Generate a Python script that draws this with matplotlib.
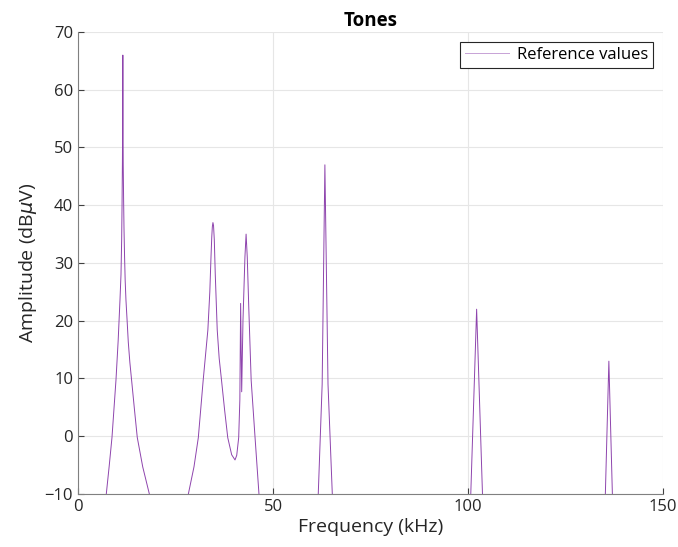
import numpy as np
import matplotlib
matplotlib.use("Agg")
import matplotlib.pyplot as plt

# valeurs (kHz, dBuV), un segment par groupe de pics
pic1_f = [7.26, 8.0, 8.72, 9.74, 10.3, 10.77, 11.03, 11.2, 11.3, 11.4, 11.45, 11.5, 11.55, 11.6, 11.7, 11.8, 11.95, 12.1, 12.3, 12.6, 12.9, 13.3, 13.75, 14.5, 15.2, 16.6, 18.3]
pic1_a = [-10, -5.2, -0.2, 9.7, 16.5, 23.6, 28, 34, 40, 48, 55, 66, 55, 47, 41, 36, 31, 27, 23.6, 20, 16.3, 12.8, 9.7, 4.5, -0.2, -5.3, -10]

pic2_f = [28.3, 29.74, 30.85, 32.1, 33.3, 33.8, 34.1, 34.3, 34.45, 34.6, 34.75, 34.95, 35.2, 35.7, 36.2, 36.8, 37.6, 38.4, 39.4, 40.26, 40.7, 41.2, 41.5, 41.7, 41.97, 42.3, 42.8, 43.1, 43.4, 43.8, 44.4, 45.4, 46.4]
pic2_a = [-10, -5.3, -0.25, 9.7, 18.4, 25, 31, 34.5, 36.3, 37, 36.5, 34, 28, 18.4, 13.5, 9.7, 4.5, -0.25, -3.2, -4.1, -3.3, -0.25, 6.3, 23, 7.7, 20, 31, 35, 31, 22, 9.7, -0.25, -10]

pic3_f = [61.6, 62.6, 63.3, 64.1, 65.2]
pic3_a = [-10, 9, 47, 9, -10]

pic4_f = [100.7, 102.2, 103.7]
pic4_a = [-10, 22, -10]

pic5_f = [135.2, 136.1, 137.0]
pic5_a = [-10, 13, -10]

segments = [(pic1_f, pic1_a), (pic2_f, pic2_a), (pic3_f, pic3_a), (pic4_f, pic4_a), (pic5_f, pic5_a)]
freq = []
ampl = []
for f, a in segments:
    freq += f + [np.nan]
    ampl += a + [np.nan]

plt.rcParams['font.family'] = ['Open Sans', 'DejaVu Sans']
plt.rcParams['mathtext.fontset'] = 'dejavusans'

fig = plt.figure(figsize=(6.78, 5.47), dpi=100)
ax = fig.add_axes([0.115, 0.0969, 0.863, 0.8446])
ax.plot(freq, ampl, color='#8E44AD', lw=0.7, label='Reference values')

ax.set_xlim(0, 150)
ax.set_ylim(-10, 70)
ax.set_xticks([0, 50, 100, 150])
ax.set_yticks(range(-10, 71, 10))
ax.grid(True, color='#e6e6e6', lw=0.8)
ax.set_axisbelow(True)
for s in ['top', 'right']:
    ax.spines[s].set_visible(False)
for s in ['left', 'bottom']:
    ax.spines[s].set_color('#808080')
ax.tick_params(direction='in', length=4, color='#404040', labelsize=12, labelcolor='#262626')

ax.set_xlabel('Frequency (kHz)', fontsize=14, color='#262626', labelpad=2)
ax.set_ylabel(r'Amplitude (dB$\mu$V)', fontsize=14, color='#262626', labelpad=4)
ax.set_title('Tones', fontsize=13.5, fontweight='bold', pad=4)

leg = ax.legend(loc='upper right', fontsize=12, fancybox=False, framealpha=1,
                edgecolor='#262626', handlelength=2.6, handletextpad=0.5,
                borderpad=0.3, borderaxespad=0.6)
leg.get_frame().set_linewidth(0.8)
for line in leg.get_lines():
    line.set_alpha(0.5)

plt.savefig('out.png', dpi=100)
